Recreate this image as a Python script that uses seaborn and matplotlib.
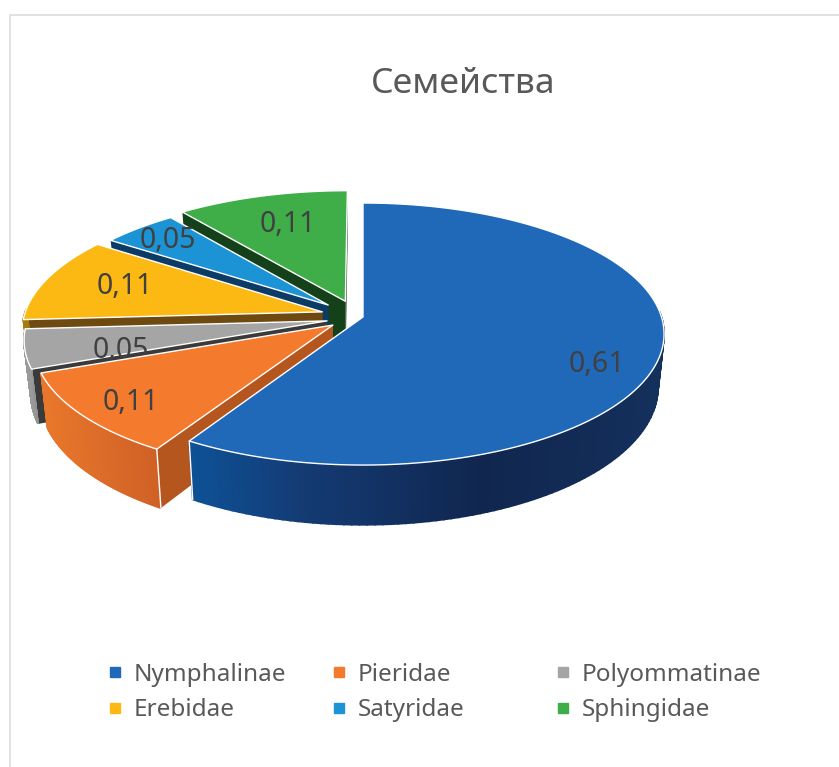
import numpy as np
import matplotlib
matplotlib.use("Agg")
import matplotlib.pyplot as plt
from matplotlib.colors import to_rgb
from matplotlib.lines import Line2D
import seaborn as sns

# Data
families = ["Nymphalinae", "Pieridae", "Polyommatinae", "Erebidae", "Satyridae", "Sphingidae"]
shares = [0.61, 0.11, 0.05, 0.11, 0.05, 0.11]
title_text = "Семейства"

# Style
top_colors = ["#2069b8", "#f47a2e", "#a5a5a5", "#fdb913", "#1c93d4", "#3fae49"]
cut_colors = ["#14396f", "#b5561f", "#3a3a3a", "#6e4a10", "#0c3c66", "#14411a"]
shift_u = [0.0, -0.10, -0.12, -0.137, -0.118, -0.06]
shift_v = [0.0, -0.062, -0.03, 0.04, 0.094, 0.124]
radius = [1.0, 0.985, 1.0, 1.0, 0.97, 1.0]
wall_stops = [
    ([190, 300, 480, 660], ["#0d5196", "#143b74", "#10264f", "#14305c"]),
    ([40, 160], ["#e9772b", "#cf6026"]),
    ([26, 45], ["#9a9a9a", "#7d7d7d"]),
    ([0, 839], ["#a57a10", "#a57a10"]),
    ([0, 839], ["#10588c", "#10588c"]),
    ([0, 839], ["#256b2c", "#256b2c"]),
]
label_xy = [(597, 365), (131, 403), (121, 350), (125, 287), (168, 241), (288, 224)]

X0, Y0, RX, RY, K, DROP, SHRINK = 363.0, 317.0, 298.5, 128.8, 0.13, 52.0, 0.98

sns.set_theme(style="white")
plt.rcParams["font.family"] = ["Noto Sans", "DejaVu Sans"]
palette = sns.color_palette(top_colors)

fig = plt.figure(figsize=(8.39, 7.67), dpi=100)
ax = fig.add_axes([0, 0, 1, 1])
ax.set_xlim(0, 839)
ax.set_ylim(767, 0)
ax.axis("off")


def project(u, v, low=False):
    w = 1 + K * v
    x = RX * u / w
    y = -RY * v / w
    if low:
        x = x * SHRINK
        y = y + DROP / w
    return X0 + x, Y0 + y


def wall_color(x, stops):
    xs, cols = stops
    rgb = np.array([to_rgb(c) for c in cols])
    return tuple(np.interp(x, xs, rgb[:, i]) for i in range(3))


total = sum(shares)
edges = np.cumsum([0.0] + list(shares)) / total * 2 * np.pi
n = len(shares)

for i in range(n):
    z = 2 + (n - i)
    t0, t1 = edges[i], edges[i + 1]
    du, dv, r = shift_u[i], shift_v[i], radius[i]
    th = np.linspace(t0, t1, 160)
    u, v = r * np.sin(th) + du, r * np.cos(th) + dv

    # radial cut faces
    for t in (t0, t1):
        ue, ve = r * np.sin(t) + du, r * np.cos(t) + dv
        pts = [project(du, dv), project(ue, ve), project(ue, ve, True), project(du, dv, True)]
        ax.fill(*zip(*pts), color=cut_colors[i], lw=0, zorder=z)

    # outer wall, only where it faces the viewer
    for j in range(len(th) - 1):
        if np.cos(th[j]) > 0.02 and np.cos(th[j + 1]) > 0.02:
            continue
        a = project(u[j], v[j])
        b = project(u[j + 1], v[j + 1])
        c = project(u[j + 1], v[j + 1], True)
        d = project(u[j], v[j], True)
        col = wall_color((a[0] + b[0]) / 2, wall_stops[i])
        ax.fill(*zip(a, b, c, d), color=col, lw=1.2, ec=col, zorder=z)

    # white corner line on the front faces
    if i == 0 or i == 1:
        k = -1 if i == 0 else 0
        a = project(u[k], v[k])
        b = project(u[k], v[k], True)
        ax.plot([a[0], b[0]], [a[1], b[1]], color="white", lw=1.0, zorder=z)

    # top face
    px, py = project(np.r_[du, u], np.r_[dv, v])
    ax.fill(px, py, facecolor=palette[i], edgecolor="white", lw=1.0, joinstyle="round", zorder=z)

    # value label
    lz = z + 0.5 if families[i] == "Polyommatinae" else 30
    ax.text(*label_xy[i], f"{shares[i]:.2f}".replace(".", ","), ha="center", va="center",
            fontsize=20.5, color="#404040", zorder=lz)

ax.text(463, 84, title_text, ha="center", va="center", fontsize=25.5, color="#595959")

# frame
ax.plot([10, 10, 839], [767, 15, 15], color="#dcdcdc", lw=1.2, zorder=1)

# legend: three columns, filled row by row
col_x = [108, 332, 556]
for c in range(3):
    ids = [c, c + 3]
    handles = [Line2D([], [], ls="", marker="s", ms=7, color=palette[k]) for k in ids]
    leg = ax.legend(handles, [families[k] for k in ids], loc="upper left",
                    bbox_to_anchor=(col_x[c], 663), bbox_transform=ax.transData,
                    frameon=False, fontsize=17.5, labelcolor="#595959", handlelength=0.6,
                    handletextpad=0.45, labelspacing=0.47, borderpad=0, borderaxespad=0)
    if c < 2:
        ax.add_artist(leg)

fig.savefig("out.png", dpi=100, facecolor="white")
